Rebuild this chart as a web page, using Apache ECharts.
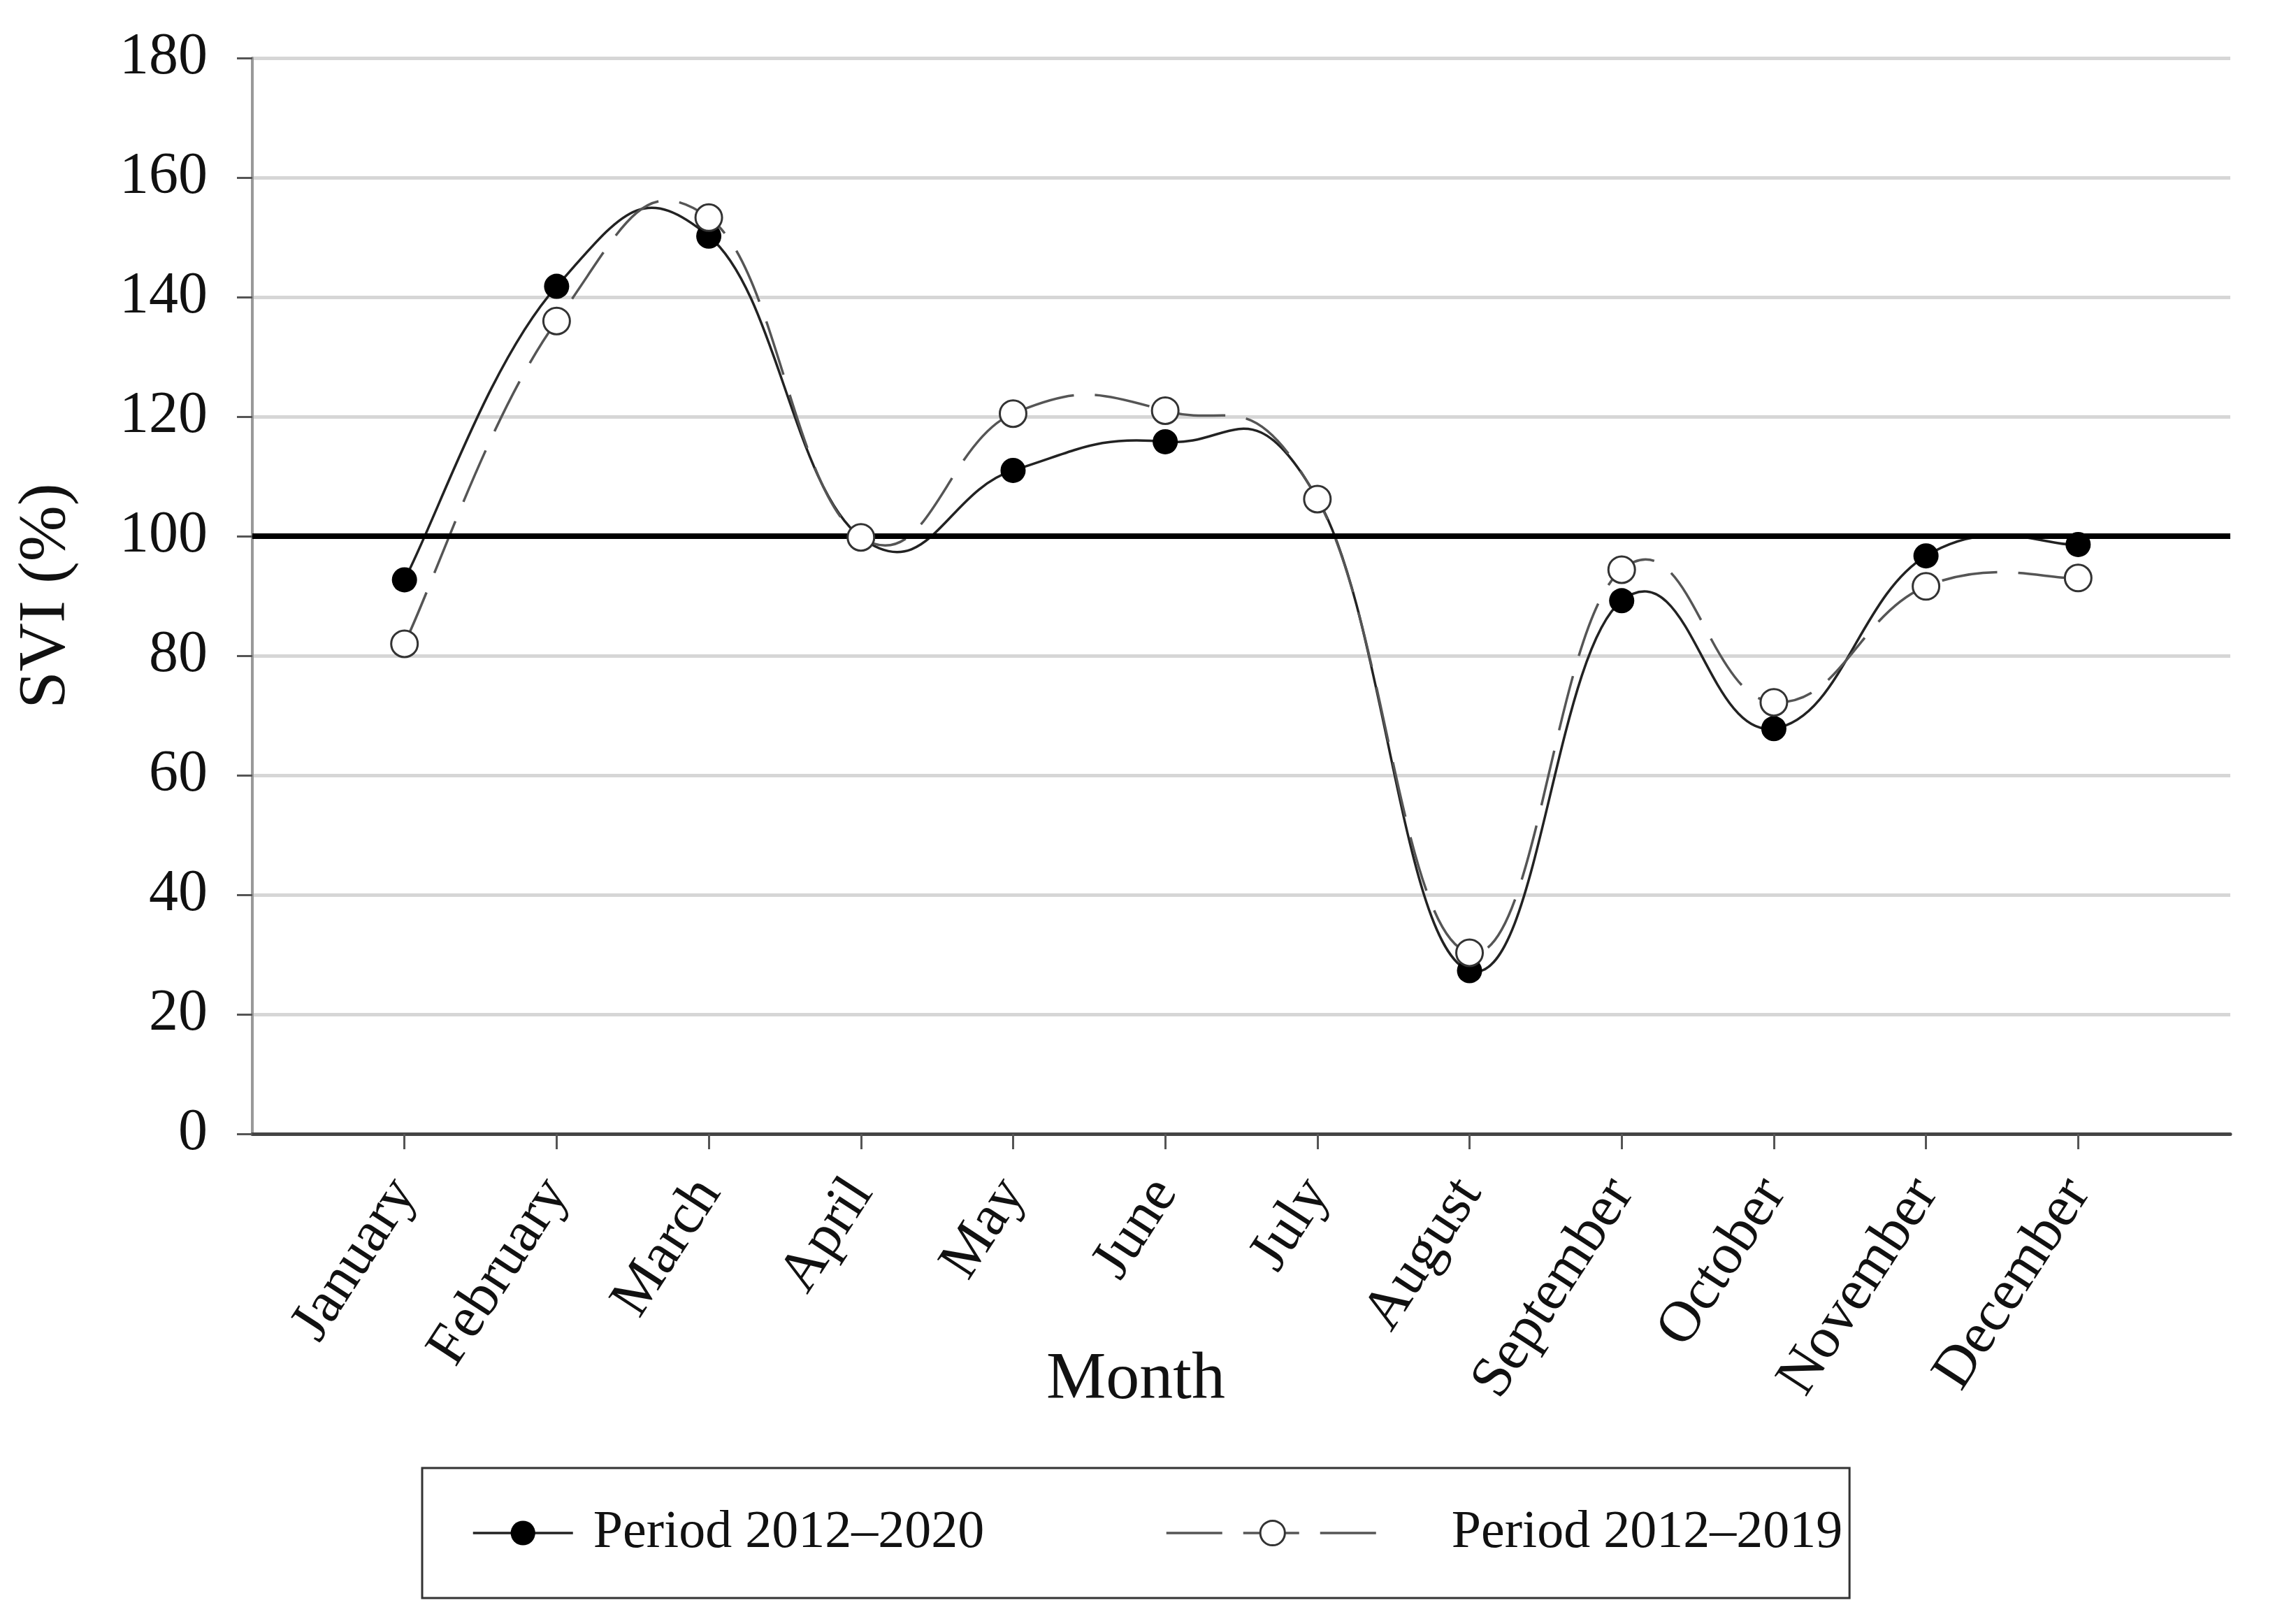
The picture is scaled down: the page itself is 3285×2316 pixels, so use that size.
<!DOCTYPE html>
<html>
<head>
<meta charset="utf-8">
<script src="https://cdn.jsdelivr.net/npm/echarts@6/dist/echarts.min.js"></script>
<style>
html,body{margin:0;padding:0;background:#fff;}
#chart{width:3285px;height:2316px;}
</style>
</head>
<body>
<div id="chart"></div>
<script>
// ---- data ----
const months = ['January','February','March','April','May','June','July','August','September','October','November','December'];
const svi2020 = [92.7, 141.8, 150.2, 99.8, 111.0, 115.8, 106.3, 27.3, 89.2, 67.8, 96.7, 98.6];
const svi2019 = [82.0, 136.0, 153.3, 99.8, 120.5, 121.0, 106.2, 30.3, 94.4, 72.2, 91.6, 93.0];
const yTicks = [0, 20, 40, 60, 80, 100, 120, 140, 160, 180];
const referenceLevel = 100;
const name2020 = 'Period 2012\u20132020';
const name2019 = 'Period 2012\u20132019';

const FONT = 'Liberation Serif';
const K = 0.22; // spline tension

function monthPos(i) { return i + 1; }

function curvePath(api, values) {
  const pts = values.map((v, i) => api.coord([monthPos(i), v]));
  const n = pts.length;
  let d = 'M' + pts[0][0] + ' ' + pts[0][1];
  for (let i = 0; i < n - 1; i++) {
    const p0 = pts[Math.max(i - 1, 0)], p1 = pts[i], p2 = pts[i + 1], p3 = pts[Math.min(i + 2, n - 1)];
    const c1x = p1[0] + K * (p2[0] - p0[0]), c1y = p1[1] + K * (p2[1] - p0[1]);
    const c2x = p2[0] - K * (p3[0] - p1[0]), c2y = p2[1] - K * (p3[1] - p1[1]);
    d += ' C' + c1x + ' ' + c1y + ' ' + c2x + ' ' + c2y + ' ' + p2[0] + ' ' + p2[1];
  }
  return d;
}

function curveSeries(id, values, stroke, dash) {
  return {
    type: 'custom',
    id: id,
    name: id,
    coordinateSystem: 'cartesian2d',
    silent: true,
    z: 2,
    data: values.map((v, i) => [monthPos(i), v]),
    encode: { x: 0, y: 1 },
    renderItem: function (params, api) {
      if (params.dataIndex !== 0) return null;
      return {
        type: 'path',
        shape: { pathData: curvePath(api, values) },
        style: { fill: 'none', stroke: stroke, lineWidth: 3.5, lineDash: dash }
      };
    }
  };
}

const chart = echarts.init(document.getElementById('chart'), null, { renderer: 'canvas' });

const option = {
  animation: false,
  backgroundColor: '#ffffff',
  grid: { left: 361, right: 94, top: 83, bottom: 694, containLabel: false },
  xAxis: {
    type: 'value',
    min: 0,
    max: months.length + 1,
    interval: 1,
    name: 'Month',
    nameLocation: 'middle',
    nameGap: 305,
    nameMoveOverlap: false,
    nameTextStyle: { fontFamily: FONT, fontSize: 96, color: '#111', padding: [0, 302, 0, 0] },
    splitLine: { show: false },
    axisLine: { show: true, onZero: false, lineStyle: { color: '#444', width: 5 } },
    axisTick: { show: true, length: 22, lineStyle: { color: '#555', width: 3 }, customValues: months.map((m, i) => monthPos(i)) },
    axisLabel: {
      customValues: months.map((m, i) => monthPos(i)),
      formatter: function (v) { return months[Math.round(v) - 1] || ''; },
      rotate: 57,
      margin: 72,
      fontFamily: FONT,
      fontSize: 83,
      color: '#111'
    }
  },
  yAxis: {
    type: 'value',
    min: yTicks[0],
    max: yTicks[yTicks.length - 1],
    interval: yTicks[1] - yTicks[0],
    name: 'SVI (%)',
    nameLocation: 'middle',
    nameGap: 246,
    nameMoveOverlap: false,
    nameTextStyle: { fontFamily: FONT, fontSize: 96, color: '#111' },
    axisLine: { show: true, lineStyle: { color: '#999', width: 4 } },
    axisTick: { show: true, length: 22, lineStyle: { color: '#555', width: 3 } },
    axisLabel: { margin: 64, fontFamily: FONT, fontSize: 84, color: '#111' },
    splitLine: { show: true, lineStyle: { color: '#d6d6d6', width: 5 } }
  },
  legend: [
    {
      data: [name2020],
      left: 604,
      top: 2100,
      orient: 'horizontal',
      itemWidth: 143,
      itemHeight: 44,
      padding: [48, 1238, 48, 71],
      borderColor: '#333',
      borderWidth: 3,
      backgroundColor: '#fff',
      selectedMode: false,
      textStyle: { fontFamily: FONT, fontSize: 76, color: '#111', padding: [0, 0, 0, 24], lineHeight: 90 },
      lineStyle: { color: '#222', width: 3.5, type: 'solid', opacity: 1 },
      itemStyle: { color: '#000', borderWidth: 0, opacity: 1 }
    },
    {
      data: [name2019],
      left: 1667,
      top: 2148,
      orient: 'horizontal',
      itemWidth: 304,
      itemHeight: 44,
      padding: 0,
      z: 5,
      selectedMode: false,
      textStyle: { fontFamily: FONT, fontSize: 76, color: '#111', padding: [0, 0, 0, 99], lineHeight: 90 },
      lineStyle: { color: '#555', width: 3.5, type: [80, 30], opacity: 1 },
      itemStyle: { color: '#fff', borderColor: '#333', borderWidth: 3, opacity: 1 }
    }
  ],
  series: [
    curveSeries('curve2020', svi2020, '#222', null),
    curveSeries('curve2019', svi2019, '#555', [80, 30]),
    {
      type: 'line',
      name: name2020,
      data: svi2020.map((v, i) => [monthPos(i), v]),
      symbol: 'circle',
      symbolSize: 36,
      showAllSymbol: true,
      z: 4,
      lineStyle: { width: 0, opacity: 0 },
      itemStyle: { color: '#000', borderWidth: 0 },
      markLine: {
        silent: true,
        symbol: 'none',
        label: { show: false },
        lineStyle: { color: '#000', width: 8, type: 'solid' },
        data: [{ yAxis: referenceLevel }]
      }
    },
    {
      type: 'line',
      name: name2019,
      data: svi2019.map((v, i) => [monthPos(i), v]),
      symbol: 'circle',
      symbolSize: 38,
      showAllSymbol: true,
      z: 5,
      lineStyle: { width: 0, opacity: 0 },
      itemStyle: { color: '#fff', borderColor: '#333', borderWidth: 3 }
    }
  ]
};

chart.setOption(option);
</script>
</body>
</html>
